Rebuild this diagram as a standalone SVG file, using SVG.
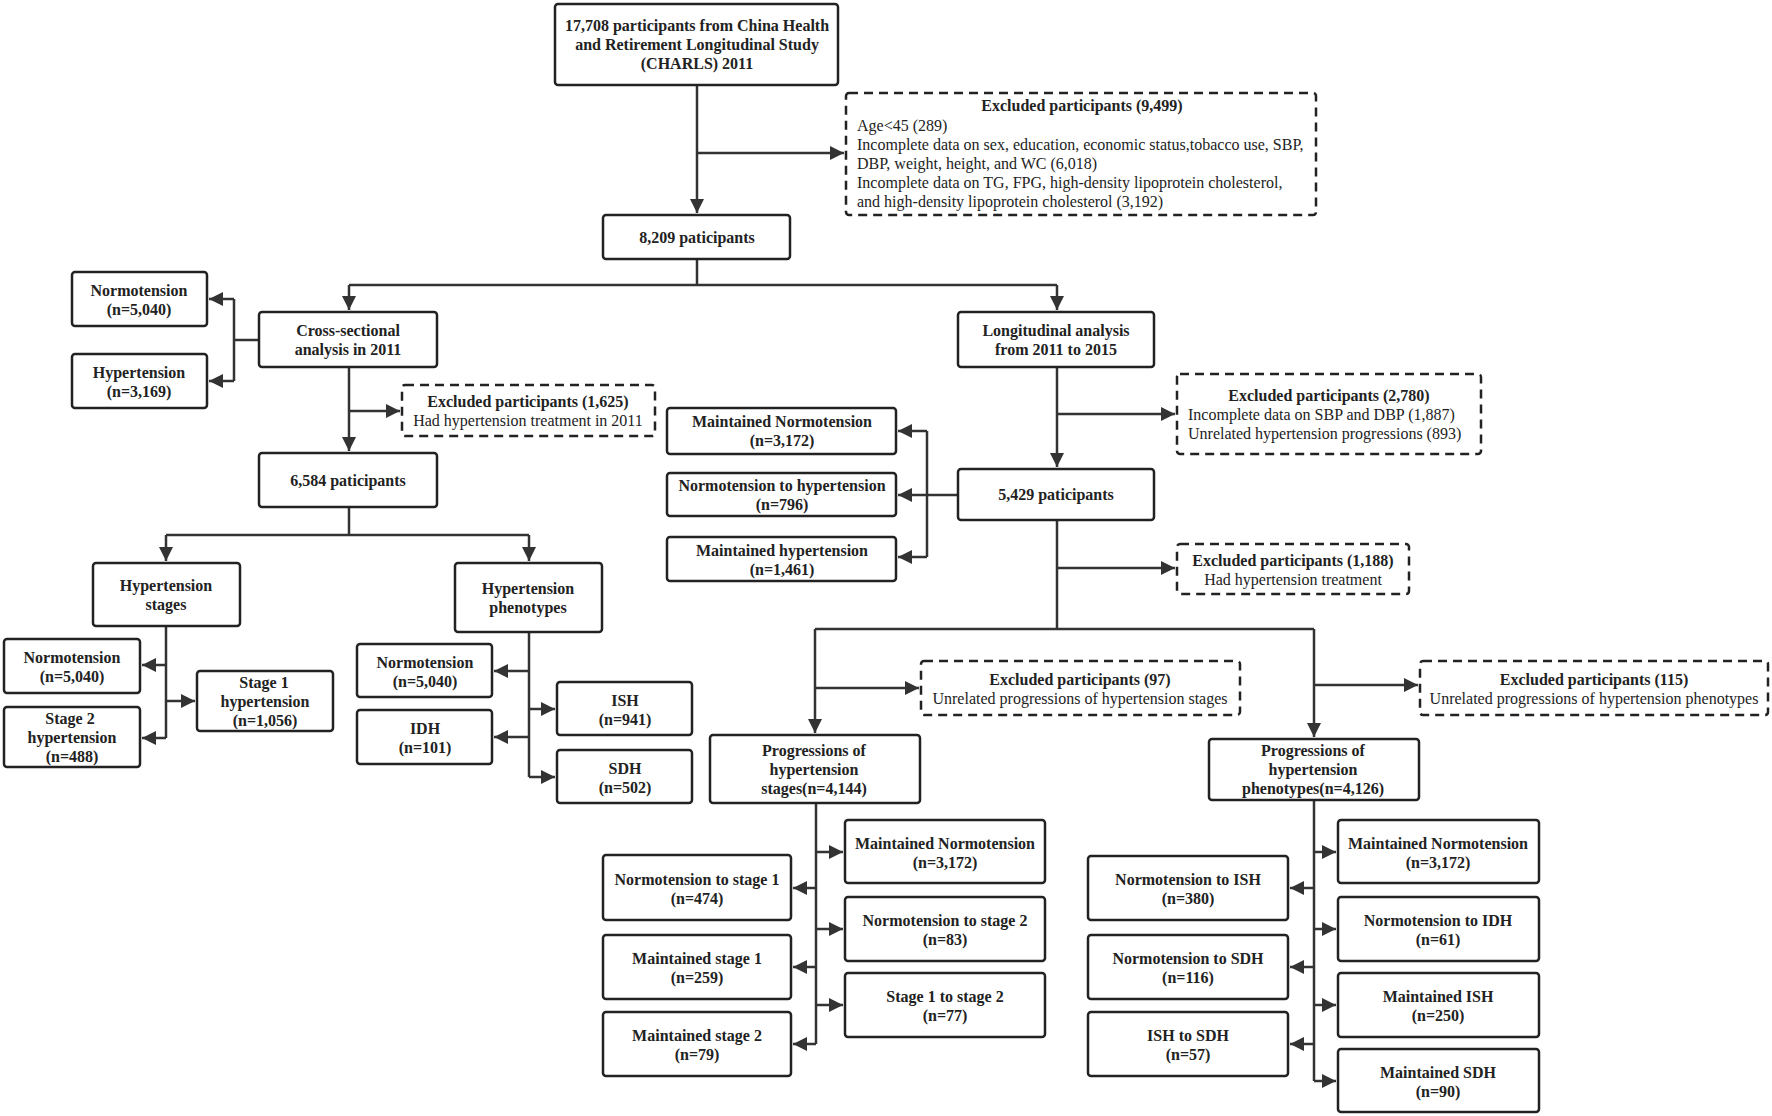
<svg xmlns="http://www.w3.org/2000/svg" width="1772" height="1116" viewBox="0 0 1772 1116">
<style>
.b{fill:#fff;stroke:#222;stroke-width:2.5}
.d{fill:#fff;stroke:#222;stroke-width:2.5;stroke-dasharray:9 6}
text{font-family:"Liberation Serif","Times New Roman",serif;font-size:16px;fill:#222;text-anchor:middle}
.t{font-weight:bold}
.l{text-anchor:start}
#conn path{fill:none;stroke:#333;stroke-width:2.5}
</style>
<defs>
<marker id="a" viewBox="0 0 12 12" refX="12" refY="6" markerWidth="14" markerHeight="14" markerUnits="userSpaceOnUse" orient="auto"><path d="M0,0 L12,6 L0,12 z" fill="#333"/></marker>
</defs>
<rect width="1772" height="1116" fill="#fff"/>
<g id="conn">
<path d="M697,85 V213" marker-end="url(#a)"/>
<path d="M697,153 H844" marker-end="url(#a)"/>
<path d="M697,259 V285"/>
<path d="M349,285 H1057"/>
<path d="M349,285 V310" marker-end="url(#a)"/>
<path d="M1057,285 V310" marker-end="url(#a)"/>
<path d="M259,340 H234"/>
<path d="M234,299 V381"/>
<path d="M234,299 H209" marker-end="url(#a)"/>
<path d="M234,381 H209" marker-end="url(#a)"/>
<path d="M349,367 V451" marker-end="url(#a)"/>
<path d="M349,411 H400" marker-end="url(#a)"/>
<path d="M349,507 V535"/>
<path d="M166,535 H529"/>
<path d="M166,535 V561" marker-end="url(#a)"/>
<path d="M529,535 V561" marker-end="url(#a)"/>
<path d="M166,626 V738"/>
<path d="M166,665 H142" marker-end="url(#a)"/>
<path d="M166,701 H195" marker-end="url(#a)"/>
<path d="M166,738 H142" marker-end="url(#a)"/>
<path d="M529,632 V777"/>
<path d="M529,671 H494" marker-end="url(#a)"/>
<path d="M529,737 H494" marker-end="url(#a)"/>
<path d="M529,709 H555" marker-end="url(#a)"/>
<path d="M529,777 H555" marker-end="url(#a)"/>
<path d="M1057,367 V467" marker-end="url(#a)"/>
<path d="M1057,414 H1175" marker-end="url(#a)"/>
<path d="M958,495 H898" marker-end="url(#a)"/>
<path d="M927,431 V557"/>
<path d="M927,431 H898" marker-end="url(#a)"/>
<path d="M927,557 H898" marker-end="url(#a)"/>
<path d="M1057,520 V629"/>
<path d="M1057,568 H1175" marker-end="url(#a)"/>
<path d="M815,629 H1314"/>
<path d="M815,629 V733" marker-end="url(#a)"/>
<path d="M1314,629 V737" marker-end="url(#a)"/>
<path d="M815,688 H919" marker-end="url(#a)"/>
<path d="M1314,685 H1418" marker-end="url(#a)"/>
<path d="M816,803 V1044"/>
<path d="M816,888 H793" marker-end="url(#a)"/>
<path d="M816,967 H793" marker-end="url(#a)"/>
<path d="M816,1044 H793" marker-end="url(#a)"/>
<path d="M816,852 H843" marker-end="url(#a)"/>
<path d="M816,929 H843" marker-end="url(#a)"/>
<path d="M816,1005 H843" marker-end="url(#a)"/>
<path d="M1314,800 V1081"/>
<path d="M1314,888 H1290" marker-end="url(#a)"/>
<path d="M1314,967 H1290" marker-end="url(#a)"/>
<path d="M1314,1044 H1290" marker-end="url(#a)"/>
<path d="M1314,852 H1336" marker-end="url(#a)"/>
<path d="M1314,929 H1336" marker-end="url(#a)"/>
<path d="M1314,1005 H1336" marker-end="url(#a)"/>
<path d="M1314,1081 H1336" marker-end="url(#a)"/>
</g>
<g id="n1"><rect class="b" x="555" y="4" width="283" height="81" rx="3"/><text class="t" x="697" y="31">17,708 participants from China Health</text><text class="t" x="697" y="50">and Retirement Longitudinal Study</text><text class="t" x="697" y="69">(CHARLS) 2011</text></g>
<g id="ex1"><rect class="d" x="846" y="93" width="470" height="122" rx="3"/><text class="t" x="1082" y="111">Excluded participants (9,499)</text><text class="l" x="857" y="131">Age&lt;45 (289)</text><text class="l" x="857" y="150">Incomplete data on sex, education, economic status,tobacco use, SBP,</text><text class="l" x="857" y="169">DBP, weight, height, and WC (6,018)</text><text class="l" x="857" y="188">Incomplete data on TG, FPG, high-density lipoprotein cholesterol,</text><text class="l" x="857" y="207">and high-density lipoprotein cholesterol (3,192)</text></g>
<g id="n2"><rect class="b" x="603" y="215" width="187" height="44" rx="3"/><text class="t" x="697" y="243">8,209 paticipants</text></g>
<g id="n3"><rect class="b" x="72" y="272" width="135" height="54" rx="3"/><text class="t" x="139" y="296">Normotension</text><text class="t" x="139" y="315">(n=5,040)</text></g>
<g id="n4"><rect class="b" x="72" y="354" width="135" height="54" rx="3"/><text class="t" x="139" y="378">Hypertension</text><text class="t" x="139" y="397">(n=3,169)</text></g>
<g id="n5"><rect class="b" x="259" y="312" width="178" height="55" rx="3"/><text class="t" x="348" y="336">Cross-sectional</text><text class="t" x="348" y="355">analysis in 2011</text></g>
<g id="ex2"><rect class="d" x="402" y="385" width="253" height="51" rx="3"/><text class="t" x="528" y="407">Excluded participants (1,625)</text><text x="528" y="426">Had hypertension treatment in 2011</text></g>
<g id="n6"><rect class="b" x="259" y="453" width="178" height="54" rx="3"/><text class="t" x="348" y="486">6,584 paticipants</text></g>
<g id="n7"><rect class="b" x="93" y="563" width="147" height="63" rx="3"/><text class="t" x="166" y="591">Hypertension</text><text class="t" x="166" y="610">stages</text></g>
<g id="n8"><rect class="b" x="4" y="639" width="136" height="54" rx="3"/><text class="t" x="72" y="663">Normotension</text><text class="t" x="72" y="682">(n=5,040)</text></g>
<g id="n9"><rect class="b" x="4" y="707" width="136" height="60" rx="3"/><text class="t" x="70" y="724">Stage 2</text><text class="t" x="72" y="743">hypertension</text><text class="t" x="72" y="762">(n=488)</text></g>
<g id="n10"><rect class="b" x="197" y="671" width="136" height="60" rx="3"/><text class="t" x="264" y="688">Stage 1</text><text class="t" x="265" y="707">hypertension</text><text class="t" x="265" y="726">(n=1,056)</text></g>
<g id="n11"><rect class="b" x="455" y="563" width="147" height="69" rx="3"/><text class="t" x="528" y="594">Hypertension</text><text class="t" x="528" y="613">phenotypes</text></g>
<g id="n12"><rect class="b" x="357" y="644" width="135" height="53" rx="3"/><text class="t" x="425" y="668">Normotension</text><text class="t" x="425" y="687">(n=5,040)</text></g>
<g id="n13"><rect class="b" x="357" y="710" width="135" height="54" rx="3"/><text class="t" x="425" y="734">IDH</text><text class="t" x="425" y="753">(n=101)</text></g>
<g id="n14"><rect class="b" x="557" y="682" width="135" height="53" rx="3"/><text class="t" x="625" y="706">ISH</text><text class="t" x="625" y="725">(n=941)</text></g>
<g id="n15"><rect class="b" x="557" y="750" width="135" height="53" rx="3"/><text class="t" x="625" y="774">SDH</text><text class="t" x="625" y="793">(n=502)</text></g>
<g id="n16"><rect class="b" x="958" y="312" width="196" height="55" rx="3"/><text class="t" x="1056" y="336">Longitudinal analysis</text><text class="t" x="1056" y="355">from 2011 to 2015</text></g>
<g id="ex3"><rect class="d" x="1177" y="374" width="304" height="80" rx="3"/><text class="t" x="1329" y="401">Excluded participants (2,780)</text><text class="l" x="1188" y="420">Incomplete data on SBP and DBP (1,887)</text><text class="l" x="1188" y="439">Unrelated hypertension progressions (893)</text></g>
<g id="n17"><rect class="b" x="958" y="469" width="196" height="51" rx="3"/><text class="t" x="1056" y="500">5,429 paticipants</text></g>
<g id="n18"><rect class="b" x="667" y="408" width="229" height="46" rx="3"/><text class="t" x="782" y="427">Maintained Normotension</text><text class="t" x="782" y="446">(n=3,172)</text></g>
<g id="n19"><rect class="b" x="667" y="473" width="229" height="43" rx="3"/><text class="t" x="782" y="491">Normotension to hypertension</text><text class="t" x="782" y="510">(n=796)</text></g>
<g id="n20"><rect class="b" x="667" y="537" width="229" height="44" rx="3"/><text class="t" x="782" y="556">Maintained hypertension</text><text class="t" x="782" y="575">(n=1,461)</text></g>
<g id="ex4"><rect class="d" x="1177" y="544" width="232" height="50" rx="3"/><text class="t" x="1293" y="566">Excluded participants (1,188)</text><text x="1293" y="585">Had hypertension treatment</text></g>
<g id="ex5"><rect class="d" x="921" y="661" width="319" height="54" rx="3"/><text class="t" x="1080" y="685">Excluded participants (97)</text><text x="1080" y="704">Unrelated progressions of hypertension stages</text></g>
<g id="ex6"><rect class="d" x="1420" y="661" width="348" height="54" rx="3"/><text class="t" x="1594" y="685">Excluded participants (115)</text><text x="1594" y="704">Unrelated progressions of hypertension phenotypes</text></g>
<g id="n21"><rect class="b" x="710" y="735" width="210" height="68" rx="3"/><text class="t" x="814" y="756">Progressions of</text><text class="t" x="814" y="775">hypertension</text><text class="t" x="814" y="794">stages(n=4,144)</text></g>
<g id="n22"><rect class="b" x="1209" y="739" width="210" height="61" rx="3"/><text class="t" x="1313" y="756">Progressions of</text><text class="t" x="1313" y="775">hypertension</text><text class="t" x="1313" y="794">phenotypes(n=4,126)</text></g>
<g id="n23"><rect class="b" x="845" y="820" width="200" height="63" rx="3"/><text class="t" x="945" y="849">Maintained Normotension</text><text class="t" x="945" y="868">(n=3,172)</text></g>
<g id="n24"><rect class="b" x="603" y="855" width="188" height="65" rx="3"/><text class="t" x="697" y="885">Normotension to stage 1</text><text class="t" x="697" y="904">(n=474)</text></g>
<g id="n25"><rect class="b" x="845" y="897" width="200" height="64" rx="3"/><text class="t" x="945" y="926">Normotension to stage 2</text><text class="t" x="945" y="945">(n=83)</text></g>
<g id="n26"><rect class="b" x="603" y="935" width="188" height="64" rx="3"/><text class="t" x="697" y="964">Maintained stage 1</text><text class="t" x="697" y="983">(n=259)</text></g>
<g id="n27"><rect class="b" x="845" y="973" width="200" height="64" rx="3"/><text class="t" x="945" y="1002">Stage 1 to stage 2</text><text class="t" x="945" y="1021">(n=77)</text></g>
<g id="n28"><rect class="b" x="603" y="1012" width="188" height="64" rx="3"/><text class="t" x="697" y="1041">Maintained stage 2</text><text class="t" x="697" y="1060">(n=79)</text></g>
<g id="n29"><rect class="b" x="1338" y="820" width="201" height="63" rx="3"/><text class="t" x="1438" y="849">Maintained Normotension</text><text class="t" x="1438" y="868">(n=3,172)</text></g>
<g id="n30"><rect class="b" x="1088" y="856" width="200" height="64" rx="3"/><text class="t" x="1188" y="885">Normotension to ISH</text><text class="t" x="1188" y="904">(n=380)</text></g>
<g id="n31"><rect class="b" x="1338" y="897" width="201" height="64" rx="3"/><text class="t" x="1438" y="926">Normotension to IDH</text><text class="t" x="1438" y="945">(n=61)</text></g>
<g id="n32"><rect class="b" x="1088" y="935" width="200" height="64" rx="3"/><text class="t" x="1188" y="964">Normotension to SDH</text><text class="t" x="1188" y="983">(n=116)</text></g>
<g id="n33"><rect class="b" x="1338" y="973" width="201" height="64" rx="3"/><text class="t" x="1438" y="1002">Maintained ISH</text><text class="t" x="1438" y="1021">(n=250)</text></g>
<g id="n34"><rect class="b" x="1088" y="1012" width="200" height="64" rx="3"/><text class="t" x="1188" y="1041">ISH to SDH</text><text class="t" x="1188" y="1060">(n=57)</text></g>
<g id="n35"><rect class="b" x="1338" y="1049" width="201" height="63" rx="3"/><text class="t" x="1438" y="1078">Maintained SDH</text><text class="t" x="1438" y="1097">(n=90)</text></g>
</svg>
